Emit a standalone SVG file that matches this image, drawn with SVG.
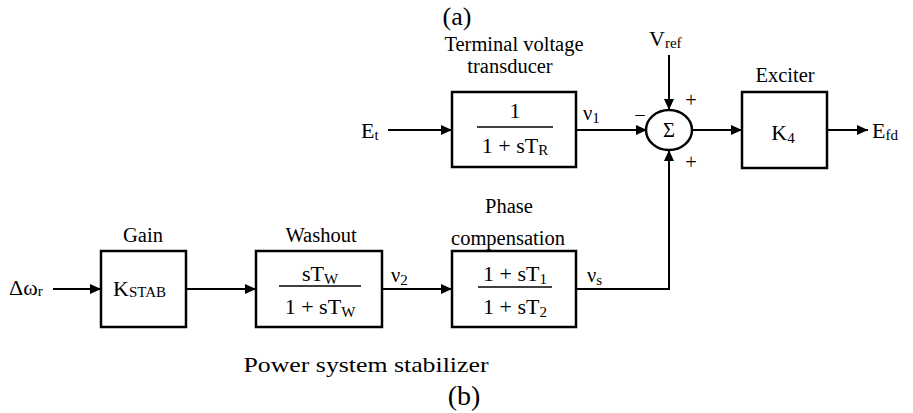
<svg xmlns="http://www.w3.org/2000/svg" width="913" height="413" viewBox="0 0 913 413">
<style>
text{font-family:"Liberation Serif","Times New Roman",serif;fill:#000}
.lbl{font-size:20.5px}
.m{font-size:22px}
.sub{font-size:15px}
.box{fill:#fff;stroke:#000;stroke-width:2.5}
.ln{fill:none;stroke:#000;stroke-width:2}
.fr{stroke:#000;stroke-width:1.6}
</style>
<defs>
<marker id="ah" markerUnits="userSpaceOnUse" markerWidth="12" markerHeight="10" refX="11" refY="5" orient="auto">
<path d="M0,0 L11,5 L0,10 Z" fill="#000"/>
</marker>
</defs>
<text x="457" y="25" font-size="26" text-anchor="middle">(a)</text>
<text x="464" y="405" font-size="28" text-anchor="middle">(b)</text>
<text x="366" y="372" font-size="21" text-anchor="middle" textLength="245" lengthAdjust="spacingAndGlyphs">Power system stabilizer</text>

<g id="connectors">
<line class="ln" x1="388" y1="130" x2="452" y2="130" marker-end="url(#ah)"/>
<line class="ln" x1="576" y1="130" x2="647" y2="130" marker-end="url(#ah)"/>
<line class="ln" x1="669" y1="55" x2="669" y2="110" marker-end="url(#ah)"/>
<line class="ln" x1="692" y1="130" x2="742" y2="130" marker-end="url(#ah)"/>
<line class="ln" x1="827" y1="130" x2="868" y2="130" marker-end="url(#ah)"/>
<line class="ln" x1="53" y1="289" x2="101" y2="289" marker-end="url(#ah)"/>
<line class="ln" x1="186" y1="289" x2="256" y2="289" marker-end="url(#ah)"/>
<line class="ln" x1="382" y1="289" x2="452" y2="289" marker-end="url(#ah)"/>
<polyline class="ln" points="576,289 669,289 669,150" marker-end="url(#ah)"/>
<text x="361" y="138" class="m">E<tspan class="sub" dy="2">t</tspan></text>
<text x="583" y="120" class="lbl">ν<tspan class="sub" dy="3">1</tspan></text>
<text x="872" y="138" class="m">E<tspan class="sub" dy="2">fd</tspan></text>
<text x="649" y="46" class="m">V<tspan class="sub" dy="2">ref</tspan></text>
<text x="9" y="295" class="m">Δω<tspan class="sub" dy="1">r</tspan></text>
<text x="391" y="282" class="lbl">ν<tspan class="sub" dy="3">2</tspan></text>
<text x="587" y="282" class="lbl">ν<tspan class="sub" dy="3">s</tspan></text>
<text x="640" y="122" class="lbl" text-anchor="middle">−</text>
<text x="691" y="107" class="lbl" text-anchor="middle">+</text>
<text x="691" y="169" class="lbl" text-anchor="middle">+</text>
</g>

<g id="transducer">
<text x="514" y="51" class="lbl" text-anchor="middle">Terminal voltage</text>
<text x="510" y="73" class="lbl" text-anchor="middle">transducer</text>
<rect class="box" x="452" y="92" width="124" height="75"/>
<text x="515" y="118" class="m" text-anchor="middle">1</text>
<line class="fr" x1="477" y1="127" x2="553" y2="127"/>
<text x="515" y="153" class="m" text-anchor="middle">1 + sT<tspan class="sub" dy="2">R</tspan></text>
</g>

<g id="sum">
<ellipse cx="669" cy="130" rx="23" ry="20" fill="#fff" stroke="#000" stroke-width="2.5"/>
<text x="669" y="137" class="lbl" text-anchor="middle">Σ</text>
</g>

<g id="exciter">
<text x="785" y="82" class="lbl" text-anchor="middle">Exciter</text>
<rect class="box" x="742" y="92" width="85" height="76"/>
<text x="783" y="140" class="m" text-anchor="middle">K<tspan class="sub" dy="3">4</tspan></text>
</g>

<g id="gain">
<text x="143" y="242" class="lbl" text-anchor="middle">Gain</text>
<rect class="box" x="101" y="251" width="85" height="76"/>
<text x="113" y="296" class="m">K<tspan class="sub" dy="1">STAB</tspan></text>
</g>

<g id="washout">
<text x="321" y="242" class="lbl" text-anchor="middle">Washout</text>
<rect class="box" x="256" y="251" width="126" height="76"/>
<text x="320" y="281" class="m" text-anchor="middle">sT<tspan class="sub" dy="3">W</tspan></text>
<line class="fr" x1="279" y1="286" x2="361" y2="286"/>
<text x="320" y="314" class="m" text-anchor="middle">1 + sT<tspan class="sub" dy="3">W</tspan></text>
</g>

<g id="phase">
<text x="509" y="213" class="lbl" text-anchor="middle">Phase</text>
<text x="508" y="245" class="lbl" text-anchor="middle">compensation</text>
<rect class="box" x="452" y="251" width="124" height="76"/>
<text x="515" y="281" class="m" text-anchor="middle">1 + sT<tspan class="sub" dy="3">1</tspan></text>
<line class="fr" x1="478" y1="287" x2="552" y2="287"/>
<text x="515" y="314" class="m" text-anchor="middle">1 + sT<tspan class="sub" dy="3">2</tspan></text>
</g>
</svg>
